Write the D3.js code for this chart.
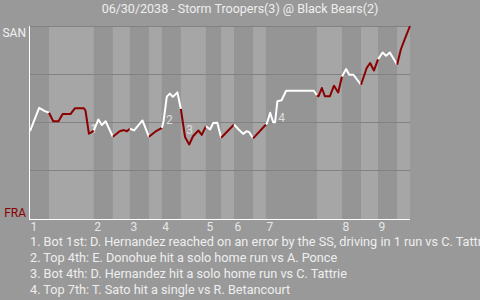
<!DOCTYPE html>
<html>
<head>
<meta charset="utf-8">
<script src="https://cdn.jsdelivr.net/npm/d3@7"></script>
<style>
  body { margin: 0; background: #999999; }
  svg { display: block; font-family: Roboto, sans-serif; }
</style>
</head>
<body>
<div id="chart"></div>
<script>
// game header
var title = "06/30/2038 - Storm Troopers(3) @ Black Bears(2)";
var awayTeam = "SAN",
    homeTeam = "FRA";

// start of every half inning, in % of game progress (last one = end of game)
var halfStarts = [0, 5.0, 16.8, 21.8, 26.3, 31.3, 34.7, 39.7, 46.3, 50.3, 53.7, 58.7, 62.1, 75.5, 82.1, 87.1, 91.6, 96.6, 100];
var innings = [1, 2, 3, 4, 5, 6, 7, 8, 9];

// win probability of SAN along the game
var progress = [0, 2.4, 3.9, 5.0,
                6.1, 7.5, 8.6, 10.7, 11.8, 14.2, 14.6, 15.5, 16.2, 16.8,
                18.0, 18.9, 19.9, 21.8,
                23.6, 24.7, 25.5, 26.3,
                27.4, 29.6, 31.3,
                33.2, 34.7,
                35.1, 36.0, 36.8, 37.6, 38.8, 39.7,
                40.3, 40.8, 41.9, 42.9, 44.3, 45.2, 46.3,
                47.4, 48.2, 49.3, 50.3,
                53.7,
                54.9, 56.1, 57.0, 57.7, 58.7,
                62.1,
                62.4, 63.2, 64.0, 64.5, 65.1, 66.2, 67.4, 74.7, 75.5,
                75.9, 76.8, 77.6, 78.9, 80.0, 81.1, 82.1,
                83.2, 84.0, 85.1, 87.1,
                88.6, 89.5, 90.5, 91.6,
                92.8, 93.7, 94.7, 96.6,
                97.6, 98.7, 100];
var winProb = [0.452, 0.574, 0.557, 0.548,
               0.504, 0.504, 0.542, 0.542, 0.571, 0.571, 0.560, 0.439, 0.447, 0.456,
               0.513, 0.484, 0.504, 0.423,
               0.452, 0.458, 0.452, 0.465,
               0.456, 0.508, 0.423,
               0.453, 0.470,
               0.497, 0.632, 0.648, 0.631, 0.654, 0.568,
               0.487, 0.422, 0.383, 0.426, 0.456, 0.433, 0.478,
               0.461, 0.495, 0.496, 0.418,
               0.487,
               0.461, 0.438, 0.452, 0.447, 0.415,
               0.487,
               0.496, 0.548, 0.499, 0.499, 0.608, 0.613, 0.663, 0.663, 0.639,
               0.634, 0.677, 0.634, 0.634, 0.689, 0.654, 0.737,
               0.776, 0.746, 0.746, 0.694,
               0.781, 0.807, 0.768, 0.827,
               0.862, 0.845, 0.862, 0.798,
               0.879, 0.936, 1.0];

// key plays
var notes = ["1. Bot 1st: D. Hernandez reached on an error by the SS, driving in 1 run vs C. Tattrie",
             "2. Top 4th: E. Donohue hit a solo home run vs A. Ponce",
             "3. Bot 4th: D. Hernandez hit a solo home run vs C. Tattrie",
             "4. Top 7th: T. Sato hit a single vs R. Betancourt"];
var noteProgress = [15.9, 35.8, 41.1, 65.3];
var noteProb = [0.443, 0.487, 0.440, 0.499];

// NB: "top" is taken by window.top, so plot edges get their own names
var w = 480,
    h = 300,
    plotLeft = 30,
    plotRight = 410,
    plotTop = 26,
    plotBottom = 218;

var svg = d3.select("#chart")
            .append("svg")
            .attr("width", w)
            .attr("height", h);

svg.append("rect")
   .attr("width", w).attr("height", h)
   .attr("fill", "#999999");

var xScale = d3.scaleLinear().domain([0, 100]).range([plotLeft, plotRight]),
    yScale = d3.scaleLinear().domain([0, 1]).range([plotBottom, plotTop]);

// half inning bands, top halves darker
for (var i = 0; i < halfStarts.length - 1; i++) {
  svg.append("rect")
     .attr("x", xScale(halfStarts[i]))
     .attr("y", plotTop)
     .attr("width", xScale(halfStarts[i + 1]) - xScale(halfStarts[i]))
     .attr("height", plotBottom - plotTop + 1)
     .attr("fill", i % 2 == 0 ? "#959595" : "#a6a6a6");
}

// grid
svg.selectAll(".grid")
   .data([0.25, 0.5, 0.75, 1])
   .enter()
   .append("line")
   .attr("class", "grid")
   .attr("x1", plotLeft).attr("x2", plotRight)
   .attr("y1", function(d){ return Math.round(yScale(d)) + 0.5; })
   .attr("y2", function(d){ return Math.round(yScale(d)) + 0.5; })
   .attr("stroke", "#828282")
   .attr("stroke-width", 1);

// axes (white)
svg.append("line")
   .attr("x1", plotLeft - 0.5).attr("x2", plotLeft - 0.5)
   .attr("y1", plotTop).attr("y2", plotBottom + 2)
   .attr("stroke", "#ffffff");
svg.append("line")
   .attr("x1", plotLeft - 1).attr("x2", plotRight)
   .attr("y1", plotBottom + 1.5).attr("y2", plotBottom + 1.5)
   .attr("stroke", "#ffffff");

// inning numbers at start of each top half
svg.selectAll(".inning")
   .data(innings)
   .enter()
   .append("text")
   .attr("class", "inning")
   .attr("x", function(d){ return xScale(halfStarts[(d - 1) * 2]) + 0.5; })
   .attr("y", 231)
   .attr("font-size", 12)
   .attr("fill", "#e6e6e6")
   .text(function(d){ return d; });

// team labels
svg.append("text")
   .attr("x", 26).attr("y", 36.5)
   .attr("text-anchor", "end")
   .attr("font-size", 12)
   .attr("fill", "#f0f0f0")
   .text(awayTeam);
svg.append("text")
   .attr("x", 26).attr("y", 216.5)
   .attr("text-anchor", "end")
   .attr("font-size", 12)
   .attr("fill", "#8b0000")
   .text(homeTeam);

svg.append("text")
   .attr("x", 240).attr("y", 13)
   .attr("text-anchor", "middle")
   .attr("font-size", 12.5)
   .attr("fill", "#eeeeee")
   .text(title);

// play markers go under the line
svg.selectAll(".marker")
   .data(noteProgress)
   .enter()
   .append("text")
   .attr("class", "marker")
   .attr("x", function(d){ return xScale(d); })
   .attr("y", function(d, i){ return yScale(noteProb[i]); })
   .attr("font-size", 12)
   .attr("fill", "#dddddd")
   .text(function(d, i){ return i + 1; });

var points = progress.map(function(p, i){ return {x: p, y: winProb[i]}; });

var line = d3.line()
  .x(function(d){ return xScale(d.x); })
  .y(function(d){ return yScale(d.y); });

// one path per half inning: white when SAN bats, red when FRA bats
for (var k = 0; k < halfStarts.length - 1; k++) {
  var seg = points.filter(function(d){ return d.x >= halfStarts[k] && d.x <= halfStarts[k + 1]; });
  var before = points.filter(function(d){ return d.x < halfStarts[k]; });
  if (before.length > 0 && seg.length > 0 && seg[0].x > halfStarts[k]) {
    seg.unshift(before[before.length - 1]);
  }
  svg.append("path")
     .datum(seg)
     .attr("fill", "none")
     .attr("stroke", k % 2 == 0 ? "#ffffff" : "#8b0000")
     .attr("stroke-width", 2)
     .attr("stroke-linejoin", "round")
     .attr("d", line);
}

// play descriptions
svg.selectAll(".note")
   .data(notes)
   .enter()
   .append("text")
   .attr("class", "note")
   .attr("x", 30)
   .attr("y", function(d, i){ return 246 + i * 16; })
   .attr("font-size", 12.7)
   .attr("fill", "#eeeeee")
   .text(function(d){ return d; });
</script>
</body>
</html>
